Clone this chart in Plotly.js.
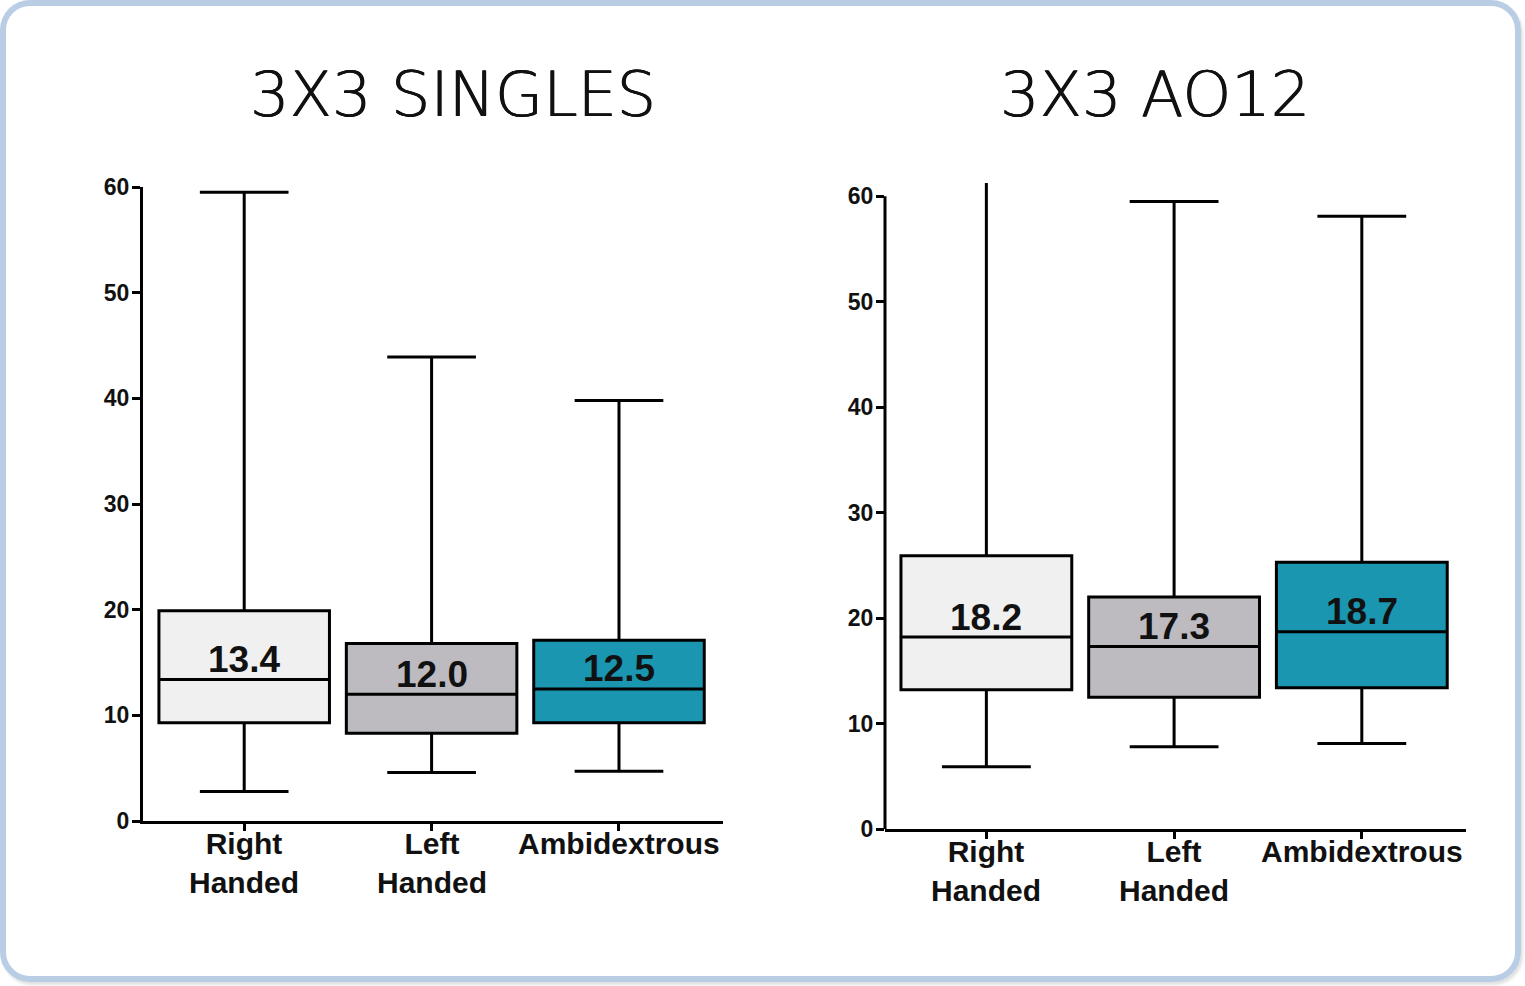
<!DOCTYPE html>
<html>
<head>
<meta charset="utf-8">
<script src="https://cdn.plot.ly/plotly-3.0.1.min.js"></script>
<style>
  html, body { margin: 0; padding: 0; background: #ffffff; }
  #wrap { position: relative; width: 1525px; height: 986px; overflow: hidden; }
  #chart { position: absolute; left: 0; top: 0; width: 1525px; height: 986px; }
  #frame { position: absolute; left: 0; top: 0; width: 1521px; height: 982px; box-sizing: border-box;
           border: 6px solid #b9cde5; border-radius: 30px; pointer-events: none;
           box-shadow: 2px 3px 3px rgba(0,0,0,0.12); }
</style>
</head>
<body>
<div id="wrap">
  <div id="chart"></div>
  <div id="frame"></div>
</div>
<script>
// ---- data ----
const categories = ["Right Handed", "Left Handed", "Ambidextrous"];
const categoryLabels = ["Right<br>Handed", "Left<br>Handed", "Ambidextrous"];
const fillColors = ["#f0f0f0", "#bdbbc0", "#1a96b0"];

const singlesMin    = [2.8, 4.6, 4.7];
const singlesQ1     = [9.3, 8.3, 9.3];
const singlesMedian = [13.4, 12.0, 12.5];
const singlesQ3     = [19.9, 16.8, 17.1];
const singlesMax    = [59.5, 43.9, 39.8];
const singlesLabels = ["13.4", "12.0", "12.5"];

const ao12Min    = [5.9, 7.8, 8.1];
const ao12Q1     = [13.2, 12.5, 13.4];
const ao12Median = [18.2, 17.3, 18.7];
const ao12Q3     = [25.9, 22.0, 25.3];
const ao12Max    = [62.5, 59.5, 58.1];
const ao12Labels = ["18.2", "17.3", "18.7"];

const panelTitles = ["3X3 SINGLES", "3X3 AO12"];
const yTicks = [0, 10, 20, 30, 40, 50, 60];

// ---- build ----
const traces = [];
function addPanel(xa, ya, mins, q1, med, q3, maxs) {
  for (let i = 0; i < categories.length; i++) {
    traces.push({
      type: "box",
      x: [categories[i]],
      q1: [q1[i]], median: [med[i]], q3: [q3[i]],
      lowerfence: [mins[i]], upperfence: [maxs[i]],
      fillcolor: fillColors[i],
      line: { color: "#000000", width: 3 },
      whiskerwidth: 0.52,
      width: 0.91,
      boxpoints: false,
      hoverinfo: "skip",
      showlegend: false,
      xaxis: xa, yaxis: ya
    });
  }
}
addPanel("x", "y", singlesMin, singlesQ1, singlesMedian, singlesQ3, singlesMax);
addPanel("x2", "y2", ao12Min, ao12Q1, ao12Median, ao12Q3, ao12Max);

const annotations = [];
const numFont = { family: "Liberation Sans, Arial, sans-serif", size: 37, color: "#111111" };
const catFont = { family: "Liberation Sans, Arial, sans-serif", size: 30, color: "#111111" };
function addLabels(xa, ya, med, labels) {
  for (let i = 0; i < categories.length; i++) {
    annotations.push({
      xref: xa, yref: ya, x: categories[i], y: med[i],
      text: "<b>" + labels[i] + "</b>", showarrow: false,
      yanchor: "middle", yshift: 20, font: numFont
    });
    annotations.push({
      xref: xa, yref: ya + " domain", x: categories[i], y: 0,
      text: "<b>" + categoryLabels[i] + "</b>", showarrow: false,
      xanchor: "center", yanchor: "top", yshift: -4, font: catFont
    });
  }
}
addLabels("x", "y", singlesMedian, singlesLabels);
addLabels("x2", "y2", ao12Median, ao12Labels);

const titleX = [453 / 1525, 1155 / 1525];
panelTitles.forEach((t, i) => {
  annotations.push({
    xref: "paper", yref: "paper", x: titleX[i], y: 1 - 95 / 986,
    xanchor: "center", yanchor: "middle", showarrow: false, text: t,
    font: { family: "DejaVu Sans", size: 62, weight: 200, color: "#111111",
            shadow: "0.5px 0 0 #111111, -0.5px 0 0 #111111" }
  });
});

const tickFont = { family: "Liberation Sans, Arial, sans-serif", size: 23, color: "#111111", weight: 700 };

function xAxis(domain, anchor) {
  return {
    domain: domain, anchor: anchor, type: "category",
    categoryorder: "array", categoryarray: categories,
    range: [-0.54, 2.555], fixedrange: true,
    showline: true, linecolor: "#000000", linewidth: 3,
    ticks: "outside", ticklen: 7, tickwidth: 3, tickcolor: "#000000",
    showticklabels: false, showgrid: false, zeroline: false
  };
}
function yAxis(domain, anchor, range, showline) {
  return {
    domain: domain, anchor: anchor, range: range, fixedrange: true,
    tickvals: yTicks, ticktext: yTicks.map(String),
    showline: showline, linecolor: "#000000", linewidth: 3,
    ticks: "outside", ticklen: 8, tickwidth: 3, tickcolor: "#000000",
    tickfont: tickFont, showgrid: false, zeroline: false, ticklabelstandoff: -2
  };
}

const layout = {
  width: 1525, height: 986,
  margin: { l: 0, r: 0, t: 0, b: 0 },
  paper_bgcolor: "rgba(0,0,0,0)", plot_bgcolor: "rgba(0,0,0,0)",
  showlegend: false,
  xaxis: xAxis([143 / 1525, 723 / 1525], "y"),
  yaxis: yAxis([1 - 821 / 986, 1 - 187 / 986], "x", [0, 60], true),
  xaxis2: xAxis([885 / 1525, 1466 / 1525], "y2"),
  yaxis2: yAxis([1 - 829 / 986, 1 - 183 / 986], "x2", [0, 61.25], false),
  annotations: annotations,
  shapes: [{
    type: "line", xref: "x2 domain", yref: "y2",
    x0: 0, x1: 0, y0: 0, y1: 60,
    line: { color: "#000000", width: 3 }
  }]
};

Plotly.newPlot("chart", traces, layout, { staticPlot: true, displayModeBar: false });
</script>
</body>
</html>
